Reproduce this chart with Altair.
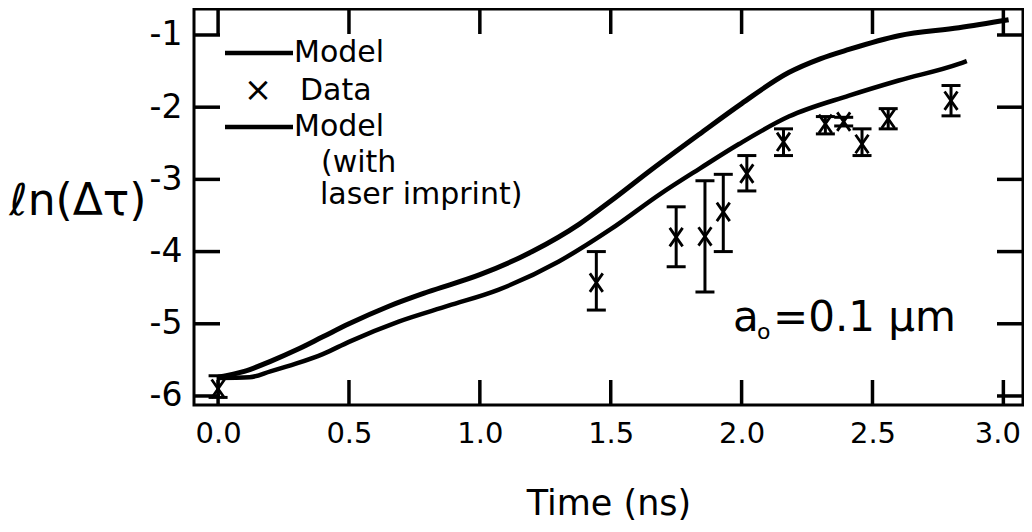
import altair as alt
import pandas as pd

# ---- data ----
t_model = [0.0, 0.1, 0.2, 0.3, 0.4, 0.5, 0.65, 0.8, 1.0, 1.2, 1.38, 1.5, 1.65, 1.84, 2.0, 2.18, 2.3, 2.41, 2.6, 2.83, 3.02]
y_model = [-5.74, -5.66, -5.52, -5.36, -5.18, -5.0, -4.76, -4.56, -4.32, -4.0, -3.62, -3.30, -2.88, -2.37, -1.95, -1.52, -1.33, -1.20, -1.01, -0.90, -0.79]

t_imprint = [0.0, 0.12, 0.2, 0.3, 0.4, 0.5, 0.69, 0.88, 1.07, 1.30, 1.50, 1.69, 1.84, 1.99, 2.18, 2.41, 2.60, 2.83, 2.86]
y_imprint = [-5.75, -5.74, -5.66, -5.55, -5.42, -5.25, -4.97, -4.75, -4.53, -4.14, -3.69, -3.20, -2.85, -2.51, -2.13, -1.84, -1.63, -1.40, -1.36]

t_data = [0.0, 1.445, 1.75, 1.86, 1.93, 2.02, 2.16, 2.32, 2.39, 2.46, 2.56, 2.80]
y_data = [-5.90, -4.43, -3.80, -3.79, -3.45, -2.92, -2.48, -2.23, -2.20, -2.51, -2.16, -1.91]
y_lo = [-6.02, -4.81, -4.21, -4.56, -4.00, -3.16, -2.67, -2.37, -2.26, -2.67, -2.30, -2.12]
y_hi = [-5.72, -4.00, -3.38, -3.02, -2.93, -2.67, -2.30, -2.13, -2.14, -2.30, -2.02, -1.70]

x_ticks = [0.0, 0.5, 1.0, 1.5, 2.0, 2.5, 3.0]
y_ticks = [-1.0, -2.0, -3.0, -4.0, -5.0, -6.0]

FONT = "DejaVu Sans"
W, H = 829, 396
X0, X1 = -0.092, 3.075
Y0, Y1 = -6.125, -0.64
TL = 25

model_df = pd.DataFrame({"t": t_model, "v": y_model})
imprint_df = pd.DataFrame({"t": t_imprint, "v": y_imprint})
data_df = pd.DataFrame({"t": t_data, "v": y_data, "lo": y_lo, "hi": y_hi})

xs = alt.Scale(domain=[X0, X1], nice=False, zero=False)
ys = alt.Scale(domain=[Y0, Y1], nice=False, zero=False)

x_axis = alt.Axis(values=x_ticks, format=".1f", ticks=False, domain=False, grid=False,
                  labelFontSize=29, labelPadding=14, labelColor="black", labelFlush=False,
                  labelOverlap=False, labelFont=FONT,
                  labelOffset={"condition": {"test": "datum.value == 3", "value": -6}, "value": 0},
                  title="Time (ns)", titleFontSize=35, titleFontWeight="normal",
                  titleFont=FONT, titleColor="black", titleBaseline="alphabetic", titleY=109)
y_axis = alt.Axis(values=y_ticks, labelExpr="'' + datum.value", ticks=False, domain=False,
                  grid=False, labelFontSize=33, labelPadding=12, labelColor="black",
                  labelFont=FONT, labelFlush=False, labelOverlap=False,
                  title="ℓn(Δτ)", titleAngle=0, titleAlign="left", titleBaseline="middle",
                  titleX=-185, titleY=192, titleFontSize=44, titleFontWeight="normal",
                  titleFont=FONT, titleColor="black")

line_model = alt.Chart(model_df).mark_line(color="black", strokeWidth=5, interpolate="monotone").encode(
    x=alt.X("t:Q", scale=xs, axis=x_axis), y=alt.Y("v:Q", scale=ys, axis=y_axis))
line_imprint = alt.Chart(imprint_df).mark_line(color="black", strokeWidth=4.5, interpolate="monotone").encode(
    x=alt.X("t:Q", scale=xs), y=alt.Y("v:Q", scale=ys))

err = alt.Chart(data_df).mark_rule(color="black", strokeWidth=3, opacity=1).encode(
    x=alt.X("t:Q", scale=xs), y=alt.Y("lo:Q", scale=ys), y2="hi:Q")
cap_lo = alt.Chart(data_df).mark_tick(color="black", orient="horizontal", size=19, thickness=3, opacity=1).encode(
    x=alt.X("t:Q", scale=xs), y=alt.Y("lo:Q", scale=ys))
cap_hi = alt.Chart(data_df).mark_tick(color="black", orient="horizontal", size=19, thickness=3, opacity=1).encode(
    x=alt.X("t:Q", scale=xs), y=alt.Y("hi:Q", scale=ys))
marks = alt.Chart(data_df).mark_point(
    shape="M-0.7,-1L0.7,1M-0.7,1L0.7,-1", filled=False, color="black", strokeWidth=2.8, size=340, opacity=1
).encode(x=alt.X("t:Q", scale=xs), y=alt.Y("v:Q", scale=ys))

one = pd.DataFrame({"k": [0]})

# inward tick marks on all four sides; positions come from the tick lists through
# the same linear mapping as the plot scales
def sx(t):
    return (t - X0) / (X1 - X0) * W

def sy(v):
    return (Y1 - v) / (Y1 - Y0) * H

tick_layers = []
for t in x_ticks:
    px = sx(t)
    tick_layers.append(alt.Chart(one).mark_rule(color="black", strokeWidth=3.5).encode(
        x=alt.value(px), y=alt.value(H), y2=alt.value(H - TL)))
    tick_layers.append(alt.Chart(one).mark_rule(color="black", strokeWidth=3.5).encode(
        x=alt.value(px), y=alt.value(0), y2=alt.value(TL)))
for v in y_ticks:
    py = sy(v)
    tick_layers.append(alt.Chart(one).mark_rule(color="black", strokeWidth=3.5).encode(
        y=alt.value(py), x=alt.value(0), x2=alt.value(TL + 1)))
    tick_layers.append(alt.Chart(one).mark_rule(color="black", strokeWidth=3.5).encode(
        y=alt.value(py), x=alt.value(W), x2=alt.value(W - TL - 1)))

# ---- legend and annotation (drawn inside the plot area) ----
ox, oy = 194, 9  # plot-area origin in page pixels
leg1 = alt.Chart(one).mark_rule(color="black", strokeWidth=4.5).encode(
    x=alt.value(225 - ox), x2=alt.value(293 - ox), y=alt.value(53 - oy))
leg3 = alt.Chart(one).mark_rule(color="black", strokeWidth=4.5).encode(
    x=alt.value(225 - ox), x2=alt.value(293 - ox), y=alt.value(127 - oy))

def label(txt, px, py, size=30, align="left"):
    return alt.Chart(one).mark_text(
        text=txt, font=FONT, fontSize=size, align=align, baseline="middle", color="black"
    ).encode(x=alt.value(px - ox), y=alt.value(py - oy))

texts = [
    label("Model", 294, 53),
    label("×", 258, 91, size=34, align="center"),
    label("Data", 300, 91),
    label("Model", 294, 127),
    label("(with", 321, 163),
    label("laser imprint)", 320, 195),
    label("a", 733, 318, size=42),
    label("o", 757, 332, size=22),
    label("=0.1 µm", 773, 318, size=42),
]

chart = alt.layer(
    line_model, line_imprint, err, cap_lo, cap_hi, marks, *tick_layers, leg1, leg3, *texts
).properties(
    width=W, height=H,
    padding={"left": 186, "top": 1, "right": 1, "bottom": 118},
    autosize=alt.AutoSizeParams(type="none"),
).configure(
    font=FONT
).configure_view(stroke="black", strokeWidth=3)

chart.save("out.html", embed_options={"renderer": "svg", "actions": False})
